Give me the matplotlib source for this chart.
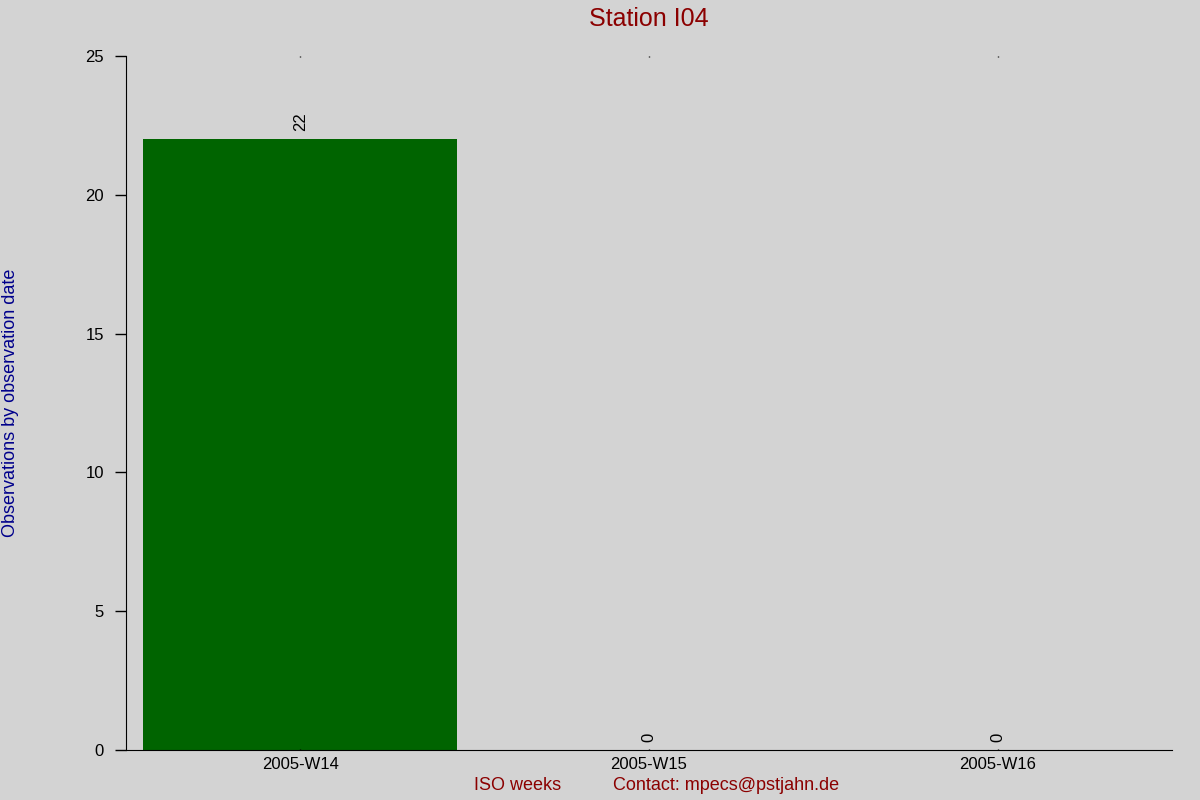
import matplotlib
matplotlib.use("Agg")
import matplotlib.pyplot as plt

weeks = ["2005-W14", "2005-W15", "2005-W16"]
counts = [22, 0, 0]

BG = "#d3d3d3"
plt.rcParams.update({"font.family": ["Liberation Sans", "DejaVu Sans"], "font.size": 12})

fig = plt.figure(figsize=(12, 8), dpi=100, facecolor=BG)
ax = fig.add_axes([126 / 1200, 50 / 800, (1172 - 126) / 1200, (750 - 56) / 800], facecolor=BG)

x = range(len(weeks))
ax.bar(x, counts, width=0.9, color="#006400")
for i, c in zip(x, counts):
    ax.annotate(str(c), (i, c), xytext=(0, 6), textcoords="offset points",
                rotation=90, ha="center", va="bottom", fontsize=12)

ax.set_xlim(-0.5, 2.5)
ax.set_ylim(0, 25)
ax.set_yticks([0, 5, 10, 15, 20, 25])
ax.set_xticks(list(x))
ax.set_xticklabels(weeks)
ax.tick_params(axis="y", direction="out", length=8, width=1, pad=8)
ax.tick_params(axis="x", length=0, pad=5)
ax.tick_params(axis="x", top=True, direction="in", length=1, width=1)
for s in ["top", "right"]:
    ax.spines[s].set_visible(False)

fig.text(649 / 1200, 1 - 19 / 800, "Station I04", ha="center", va="center",
         color="#8b0000", fontsize=18)
fig.text(11 / 1200, 1 - 403 / 800, "Observations by observation date", rotation=90,
         ha="center", va="center", color="#00008b", fontsize=13)
fig.text(518 / 1200, 1 - 786 / 800, "ISO weeks", ha="center", va="center",
         color="#8b0000", fontsize=13)
fig.text(613 / 1200, 1 - 786 / 800, "Contact: mpecs@pstjahn.de", ha="left", va="center",
         color="#8b0000", fontsize=13)

fig.savefig("out.png", facecolor=BG)
